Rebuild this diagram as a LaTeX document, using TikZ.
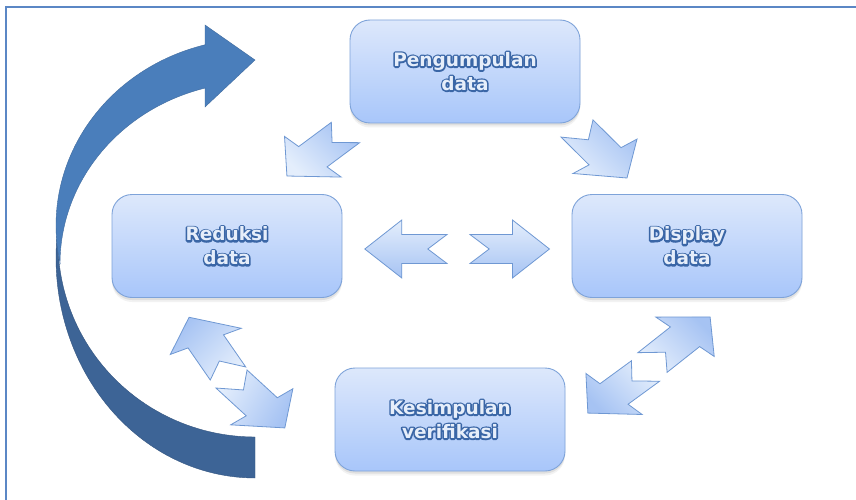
\documentclass[tikz,border=0pt]{standalone}
\usepackage{fontspec}
\newfontfamily\lblfont{DejaVu Sans}
\definecolor{boxtop}{HTML}{DDE8FB}
\definecolor{boxbot}{HTML}{A8C6FA}
\definecolor{boxline}{HTML}{7EA3D9}
\definecolor{arrlight}{HTML}{E4EEFC}
\definecolor{arrdark}{HTML}{A6C3F3}
\definecolor{arrline}{HTML}{6F98D3}
\definecolor{bandlight}{HTML}{4A7EBB}
\definecolor{banddark}{HTML}{3D6496}
\definecolor{frameblue}{HTML}{5B87C5}
\definecolor{txtfill}{HTML}{E6EEFA}
\tikzset{
  stagebox/.style={rounded corners=20pt, minimum width=230pt, minimum height=103pt, inner sep=0pt,
    preaction={fill=black, opacity=0.05, transform canvas={yshift=-4.5pt}},
    preaction={fill=black, opacity=0.08, transform canvas={yshift=-2.5pt}},
    draw=boxline, line width=0.9pt, top color=boxtop, bottom color=boxbot},
  lbl/.style={font=\lblfont\bfseries\fontsize{18.5}{24}\selectfont, align=center, inner sep=0pt, text=txtfill},
  blockarrowstyle/.style={draw=arrline, line width=0.8pt, line join=miter},
  bandlightstyle/.style={fill=bandlight, draw=bandlight!85!black, line width=0.4pt},
  banddarkstyle/.style={fill=banddark, draw=banddark!85!black, line width=0.4pt},
}
% notched block arrow, drawn in an unstretched frame then widened horizontally
% tail x, tail y, angle, length, shading angle
\newcommand\blockarrow[5]{%
  \begin{scope}[shift={(#1,#2)}, xscale=1.37, rotate=#3]
    \path[blockarrowstyle, top color=arrdark, bottom color=arrlight, shading angle=#5]
      (0,14.5) -- ({#4-27},14.5) -- ({#4-27},29) -- (#4,0) -- ({#4-27},-29)
      -- ({#4-27},-14.5) -- (0,-14.5) -- (14,0) -- cycle;
  \end{scope}}
% stroke-only text (outline layer, drawn under the filled text)
\newcommand\strokeonly[1]{\special{pdf:literal direct 1 Tr 3.2 w 1 j 0.227 0.4 0.651 RG}#1\special{pdf:literal direct 0 Tr}}
\begin{document}
\begin{tikzpicture}[x=1pt,y=-1pt]
\useasboundingbox (0,0) rectangle (856,500);
\fill[white] (0,0) rectangle (856,500);
% frame
\begin{scope}
  \clip (0,0) rectangle (856,500);
  \draw[frameblue, line width=2pt] (6,7) rectangle (900,560);
\end{scope}
% big curved arrow: dark back part
\path[banddarkstyle] (255,478) -- (255,437)
  -- plot[domain=270:170.55, samples=60] ({255+197*cos(\x)},{242-195*sin(\x)})
  -- plot[domain=167.4:270, samples=60] ({255+199*cos(\x)},{258-220*sin(\x)}) -- cycle;
% light front part with head
\path[bandlightstyle] (205,45) -- (205,25) -- (255,60) -- (205,107) -- (205,88)
  -- plot[domain=104.8:180, samples=60] ({255+195*cos(\x)},{264-182*sin(\x)})
  -- plot[domain=191.9:104.5, samples=60] ({255+199*cos(\x)},{225.5-186.7*sin(\x)}) -- cycle;
% boxes
\node[stagebox] (P) at (465,71.5) {};
\node[stagebox] (R) at (227,246) {};
\node[stagebox] (D) at (687,246) {};
\node[stagebox] (K) at (450,419.5) {};
% block arrows
\blockarrow{345.5}{132.5}{225.5}{61}{-45}
\blockarrow{577}{128.5}{-53.6}{61.5}{-45}
\blockarrow{447}{249}{180}{60}{180}
\blockarrow{470}{249}{0}{58}{180}
\blockarrow{228}{373.5}{116.8}{63}{45}
\blockarrow{231.5}{379}{-51.5}{62.5}{-120}
\blockarrow{652.5}{362.5}{47.3}{62}{-45}
\blockarrow{645.5}{371}{225}{59.5}{135}
% labels: outline layer, then filled text
\node[lbl] (Pline) at (P.center) {\strokeonly{Pengumpulan\\data}};
\node[lbl] (Ptext) at (P.center) {Pengumpulan\\data};
\node[lbl] (Rline) at (R.center) {\strokeonly{Reduksi\\data}};
\node[lbl] (Rtext) at (R.center) {Reduksi\\data};
\node[lbl] (Dline) at (D.center) {\strokeonly{Display\\data}};
\node[lbl] (Dtext) at (D.center) {Display\\data};
\node[lbl] (Kline) at (K.center) {\strokeonly{Kesimpulan\\verifikasi}};
\node[lbl] (Ktext) at (K.center) {Kesimpulan\\verifikasi};
\end{tikzpicture}
\end{document}
